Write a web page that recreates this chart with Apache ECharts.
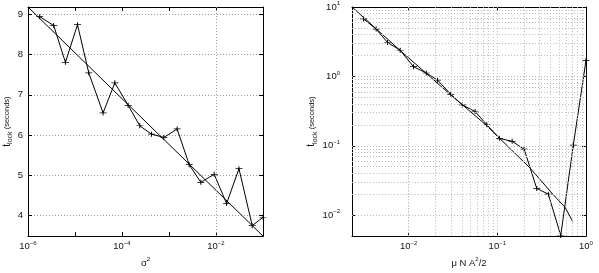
<!DOCTYPE html>
<html>
<head>
<meta charset="utf-8">
<script src="https://cdn.jsdelivr.net/npm/echarts@6/dist/echarts.min.js"></script>
<style>html,body{margin:0;padding:0;background:#fff}#c{width:599px;height:273px}</style>
</head>
<body>
<div id="c"></div>
<script>
// ---- Left panel: t_lock vs sigma^2 (semilog x) ----
const leftX = [1.77e-6, 3.52e-6, 6.26e-6, 1.13e-5, 1.96e-5, 3.96e-5, 7.03e-5, 1.35e-4, 2.39e-4, 4.25e-4,
               7.76e-4, 1.49e-3, 2.69e-3, 4.76e-3, 9.16e-3, 1.68e-2, 3.08e-2, 5.90e-2, 0.1];
const leftY = [8.95, 8.73, 7.81, 8.75, 7.55, 6.55, 7.30, 6.74, 6.23, 6.02,
               5.94, 6.15, 5.26, 4.82, 5.02, 4.29, 5.16, 3.74, 3.95];
const leftFitX = [1e-6, 0.1];
const leftFitY = [9.19, 3.48];
const leftXGrid = [1e-4, 1e-2];

// ---- Right panel: t_lock vs mu N A^2/2 (log-log) ----
const rightX = [3.10e-3, 4.31e-3, 5.79e-3, 8.04e-3, 1.135e-2, 1.58e-2, 2.12e-2, 2.99e-2, 4.04e-2, 5.62e-2,
                7.62e-2, 0.1056, 0.147, 0.2005, 0.2786, 0.376, 0.519, 0.719, 1.0];
const rightY = [6.72, 4.81, 3.08, 2.38, 1.38, 1.12, 0.883, 0.552, 0.388, 0.312,
                0.201, 0.128, 0.116, 0.0894, 0.0243, 0.0201, 0.0051, 0.102, 1.70];
const rightFitX = [0.0023, 0.0081, 0.0294, 0.0762, 0.1076, 0.234, 0.428, 0.581, 0.708];
const rightFitY = [10.0, 2.34, 0.552, 0.195, 0.126, 0.0479, 0.0197, 0.0130, 0.00813];
const rightXGrid = [0.003,0.004,0.005,0.006,0.007,0.008,0.009,0.01,0.02,0.03,0.04,0.05,0.06,0.07,0.08,0.09,
                    0.1,0.2,0.3,0.4,0.5,0.6,0.7,0.8,0.9];
const rightYGrid = [0.006,0.007,0.008,0.009,0.01,0.02,0.03,0.04,0.05,0.06,0.07,0.08,0.09,0.1,
                    0.2,0.3,0.4,0.5,0.6,0.7,0.8,0.9,1,2,3,4,5,6,7,8,9];

const FONT = 'Liberation Sans, Arial, sans-serif';
const supRich = {
  b: {fontSize: 9.5, fontFamily: FONT, color: '#111', lineHeight: 13},
  s: {fontSize: 6, fontFamily: FONT, color: '#111', lineHeight: 6, verticalAlign: 'top'}
};
function powLabel(v, evenOnly) {
  const l = Math.log10(v);
  const e = Math.round(l);
  if (Math.abs(l - e) > 1e-6) return '';
  if (evenOnly && (e % 2 !== 0)) return '';
  return '{b|10}{s|' + String(e).replace('-', '\u2212') + '}';
}
const zip = (a, b) => a.map((v, i) => [v, b[i]]);
const plus = 'path://M3,0h1v7h-1z M0,3h7v1h-7z';

const axisLine = {show: true, lineStyle: {color: '#000', width: 1}};
const tick = {show: true, inside: true, length: 4, lineStyle: {color: '#000', width: 1}};
const nameRichY = {
  t: {fontSize: 10, fontFamily: FONT, color: '#111', lineHeight: 14},
  sub: {fontSize: 7, fontFamily: FONT, color: '#111', lineHeight: 7, verticalAlign: 'bottom'},
  n: {fontSize: 7.5, fontFamily: FONT, color: '#111', lineHeight: 14}
};
const nameRichX = {
  a: {fontSize: 9.5, fontFamily: FONT, color: '#111', lineHeight: 13},
  s: {fontSize: 6, fontFamily: FONT, color: '#111', lineHeight: 6, verticalAlign: 'top'}
};
const gridDot = {color: '#9a9a9a', width: 1, type: [1, 2]};
const gridDotLight = {color: '#bdbdbd', width: 1, type: [1, 2]};

const option = {
  animation: false,
  backgroundColor: '#fff',
  grid: [
    {left: 28, top: 7, right: 336, bottom: 24},
    {left: 352, top: 7, right: 13, bottom: 23}
  ],
  xAxis: [
    {gridIndex: 0, type: 'log', min: 1e-6, max: 0.1, position: 'bottom',
     axisLine, axisTick: tick, splitLine: {show: false},
     axisLabel: {margin: 4, formatter: v => powLabel(v, true), rich: supRich},
     name: '{a|\u03c3}{s|2}', nameLocation: 'middle', nameGap: 15, nameTextStyle: {rich: nameRichX}},
    {gridIndex: 0, type: 'log', min: 1e-6, max: 0.1, position: 'top',
     axisLine, axisTick: tick, splitLine: {show: false}, axisLabel: {show: false}},
    {gridIndex: 1, type: 'log', min: 0.0023, max: 1, position: 'bottom',
     axisLine, axisTick: tick, splitLine: {show: false},
     axisLabel: {margin: 4, formatter: v => powLabel(v, false), rich: supRich},
     name: '{a|\u03bc N A}{s|2}{a|/2}', nameLocation: 'middle', nameGap: 15, nameTextStyle: {rich: nameRichX}},
    {gridIndex: 1, type: 'log', min: 0.0023, max: 1, position: 'top',
     axisLine, axisTick: tick, splitLine: {show: false}, axisLabel: {show: false}}
  ],
  yAxis: [
    {gridIndex: 0, type: 'value', min: 3.48, max: 9.19, position: 'left',
     axisLine, axisTick: tick, splitLine: {show: true, lineStyle: gridDot},
     axisLabel: {margin: 5, fontSize: 9.5, fontFamily: FONT, color: '#111', showMinLabel: false, showMaxLabel: false},
     name: '{t|t}{sub|lock}{n| (seconds)}', nameLocation: 'middle', nameRotate: 90, nameGap: 14,
     nameTextStyle: {rich: nameRichY}},
    {gridIndex: 0, type: 'value', min: 3.48, max: 9.19, position: 'right',
     axisLine, axisTick: tick, splitLine: {show: false}, axisLabel: {show: false}},
    {gridIndex: 1, type: 'log', min: 0.005, max: 10, position: 'left',
     axisLine, axisTick: tick, splitLine: {show: false},
     axisLabel: {margin: 12, formatter: v => powLabel(v, false), rich: supRich},
     name: '{t|t}{sub|lock}{n| (seconds)}', nameLocation: 'middle', nameRotate: 90, nameGap: 32,
     nameTextStyle: {rich: nameRichY}},
    {gridIndex: 1, type: 'log', min: 0.005, max: 10, position: 'right',
     axisLine, axisTick: tick, splitLine: {show: false}, axisLabel: {show: false}}
  ],
  series: [
    {type: 'line', xAxisIndex: 0, yAxisIndex: 0, data: zip(leftFitX, leftFitY), showSymbol: false,
     lineStyle: {color: '#000', width: 1}, z: 2, silent: true,
     markLine: {silent: true, symbol: ['none', 'none'], label: {show: false}, lineStyle: gridDot,
                data: leftXGrid.map(v => ({xAxis: v}))}},
    {type: 'line', xAxisIndex: 0, yAxisIndex: 0, data: zip(leftX, leftY), symbol: plus, symbolSize: [7, 5],
     itemStyle: {color: '#000'}, lineStyle: {color: '#000', width: 1}, z: 3, silent: true},
    {type: 'line', xAxisIndex: 2, yAxisIndex: 2, data: zip(rightFitX, rightFitY), showSymbol: false,
     lineStyle: {color: '#000', width: 1}, z: 2, silent: true,
     markLine: {silent: true, symbol: ['none', 'none'], label: {show: false}, lineStyle: gridDotLight,
                data: rightXGrid.map(v => ({xAxis: v})).concat(rightYGrid.map(v => ({yAxis: v})))}},
    {type: 'line', xAxisIndex: 2, yAxisIndex: 2, data: zip(rightX, rightY), symbol: plus, symbolSize: [7, 5],
     itemStyle: {color: '#000'}, lineStyle: {color: '#000', width: 1}, z: 3, silent: true}
  ]
};
const chart = echarts.init(document.getElementById('c'), null, {renderer: 'canvas'});
chart.setOption(option);
</script>
</body>
</html>
